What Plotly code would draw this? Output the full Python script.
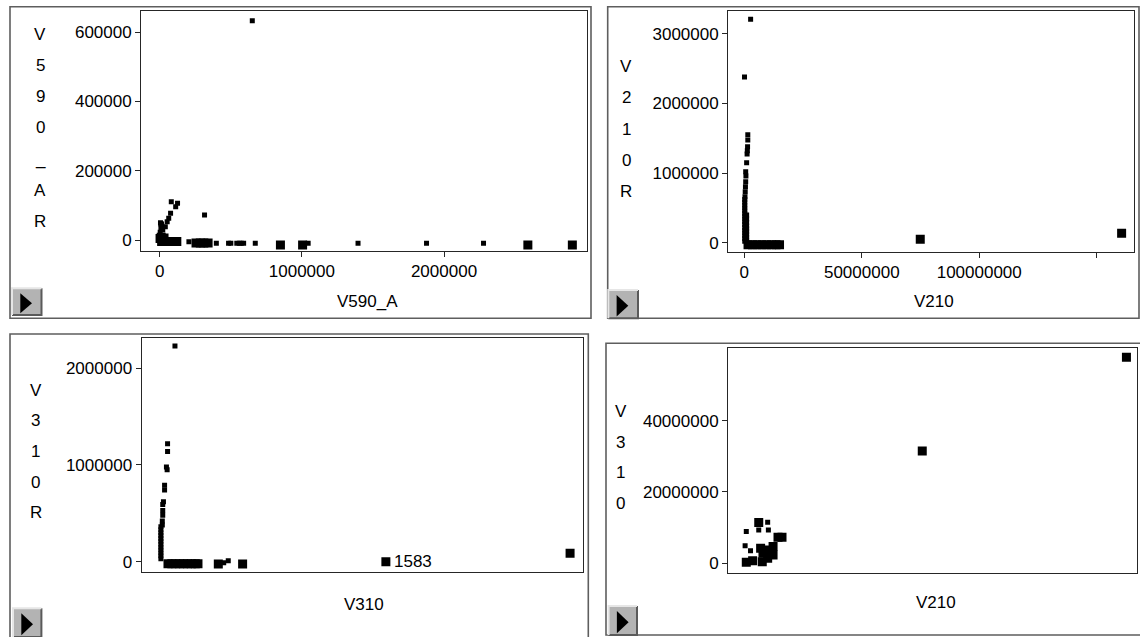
import plotly.graph_objects as go

W, H = 1140, 637
FONT = "Liberation Sans, Arial, sans-serif"

# ---------------- data ----------------
# Panel 1: V590_AR against V590_A
p1_small_x = [651000, 81000, 125000, 112000, 76000, 63000, 52000, 39000, 21000,
              8000, 8000, 15000, 5000, 12000, 3000, 3000, 315000, 205000, 398000,
              484000, 500000, 542000, 560000, 573000, 590000, 672000, 1044000,
              1395000, 1877000, 2278000]
p1_small_y = [633000, 110500, 105900, 96100, 77000, 62600, 52800, 38500, 28900,
              46200, 35000, 40000, 50000, 46000, 22000, 12000, 72000, -5000, -9500,
              -9500, -9500, -9500, -9500, -9500, -9500, -9500, -9500,
              -9500, -9500, -9500]
p1_large_x = [2000, 13000, 30000, 48000, 66000, 84000, 102000, 120000, 10000, 30000,
              255000, 285000, 310000, 340000, 849000, 1005000, 2590000, 2903000]
p1_large_y = [4000, -4000, -4000, -4000, -4000, -4000, -4000, -4000, 8000, 6000,
              -9000, -9000, -9000, -9000, -14400, -14400, -14400, -14400]

# Panel 2: V210R against V210
p2_small_x = [2700000, 100000, 1500000, 1500000, 1400000, 1300000, 1200000, 1000000,
              600000, 700000, 600000, 500000, 400000, 300000,
              200000, 200000, 200000, 200000, 200000, 200000, 200000, 200000,
              200000, 200000, 200000, 200000, 200000, 200000, 200000, 200000,
              1000000, 1000000, 1000000, 1000000, 1000000, 1000000, 1000000, 1000000,
              1000000, 1000000]
p2_small_y = [3210000, 2380000, 1552000, 1476000, 1380000, 1320000, 1274000, 1149000,
              1020000, 958000, 877000, 805000, 733000, 661000,
              620000, 580000, 540000, 500000, 460000, 420000, 380000, 340000,
              300000, 260000, 220000, 180000, 140000, 100000, 60000, 20000,
              400000, 340000, 290000, 240000, 200000, 160000, 120000, 80000,
              40000, 0]
p2_large_x = [1600000, 3500000, 5500000, 7500000, 9500000, 11500000, 13500000, 15000000,
              74900000, 160600000]
p2_large_y = [-30000, -30000, -30000, -30000, -30000, -30000, -30000, -30000,
              49000, 135000]

# Panel 3: V310R against V310
p3_small_x = [107000, 55000, 55000, 47000, 52000, 34000, 34000, 26000, 21000, 21000,
              21000, 18000, 18000, 8000, 8000, 8000, 8000, 8000, 8000, 8000, 8000,
              8000, 8000, 8000, 8000, 450000, 482000]
p3_small_y = [2230000, 1220000, 1140000, 980000, 950000, 790000, 740000, 620000,
              590000, 530000, 480000, 420000, 380000, 360000, 330000, 300000, 270000,
              240000, 210000, 180000, 150000, 120000, 90000, 60000, 30000, -10000, 10000]
p3_large_x = [58000, 85000, 112000, 140000, 167000, 195000, 222000, 250000, 269000,
              412000, 583000, 1591000, 2887000]
p3_large_y = [-22000, -22000, -22000, -22000, -22000, -22000, -22000, -22000, -22000,
              -24000, -24000, 0, 87000]
p3_case_label = "1583"
p3_case_x = 1591000
p3_case_y = 0

# Panel 4: V310 against V210
p4_small_x = [800000, 6100000, 9900000, 10200000, 300000, 2600000]
p4_small_y = [8900000, 9300000, 11500000, 9300000, 4900000, 3500000]
p4_large_x = [162600000, 75700000, 6100000, 14300000, 16000000, 800000, 3500000,
              7600000, 7900000, 10600000, 12200000, 9900000, 12200000, 6900000]
p4_large_y = [57800000, 31500000, 11400000, 7300000, 7300000, 300000, 700000,
              450000, 2800000, 3700000, 2300000, 1400000, 4700000, 4200000]

# axis titles and ticks
p1_xtitle, p1_ytitle = "V590_A", "V590_AR"
p2_xtitle, p2_ytitle = "V210", "V210R"
p3_xtitle, p3_ytitle = "V310", "V310R"
p4_xtitle, p4_ytitle = "V210", "V310"
p1_xticks = [0, 1000000, 2000000]
p1_yticks = [0, 200000, 400000, 600000]
p2_xticks = [0, 50000000, 100000000, 150000000]
p2_xticklabels = ["0", "50000000", "100000000", ""]
p2_yticks = [0, 1000000, 2000000, 3000000]
p3_yticks = [0, 1000000, 2000000]
p4_yticks = [0, 20000000, 40000000]


# ---------------- helpers ----------------
def fx(x):
    return x / W


def fy(y):
    return 1 - y / H


LINE = "#262626"


def make_axis(dom, rng, anchor, tickvals=None, ticktext=None, vertical=False):
    d = dict(
        domain=[fx(dom[0]), fx(dom[1])] if not vertical else [fy(dom[1]), fy(dom[0])],
        range=rng, anchor=anchor, showgrid=False, zeroline=False,
        showline=True, mirror=True, linecolor=LINE, linewidth=1.4,
        tickfont=dict(family=FONT, size=17, color="black"),
        fixedrange=True,
    )
    if tickvals:
        d.update(tickmode="array", tickvals=tickvals,
                 ticktext=ticktext if ticktext else [str(v) for v in tickvals],
                 ticks="outside", ticklen=5, tickwidth=1, tickcolor=LINE)
    else:
        d.update(showticklabels=False, ticks="")
    return d


fig = go.Figure()


def add_points(xs, ys, size, xa, ya):
    fig.add_trace(go.Scatter(
        x=xs, y=ys, mode="markers", xaxis=xa, yaxis=ya, showlegend=False,
        hoverinfo="x+y",
        marker=dict(symbol="square", size=size, color="black", line=dict(width=0)),
    ))


add_points(p1_small_x, p1_small_y, 5, "x", "y")
add_points(p1_large_x, p1_large_y, 9, "x", "y")
add_points(p2_small_x, p2_small_y, 5, "x2", "y2")
add_points(p2_large_x, p2_large_y, 9, "x2", "y2")
add_points(p3_small_x, p3_small_y, 5, "x3", "y3")
add_points(p3_large_x, p3_large_y, 9, "x3", "y3")
add_points(p4_small_x, p4_small_y, 5, "x4", "y4")
add_points(p4_large_x, p4_large_y, 9, "x4", "y4")

shapes = []
annotations = []

# outer window frames
for (x0, y0, x1, y1) in [(10, 6.7, 591, 318.3), (607.7, 6.7, 1139, 318.3),
                         (10, 334, 588.3, 640), (606, 343.3, 1142, 635)]:
    shapes.append(dict(type="rect", xref="paper", yref="paper",
                       x0=fx(x0), x1=fx(x1), y0=fy(y1), y1=fy(y0),
                       line=dict(color="#5e5e5e", width=1.6), layer="below"))

# small play buttons in the lower-left corner of each window
for (x0, y0, x1, y1) in [(12, 288.3, 41.5, 315), (608.3, 290, 638, 318.3),
                         (13, 608.3, 41.4, 637), (608.6, 606, 637, 635)]:
    shapes.append(dict(type="rect", xref="paper", yref="paper",
                       x0=fx(x0), x1=fx(x1), y0=fy(y1), y1=fy(y0),
                       fillcolor="#b3b3b3", line=dict(width=0)))
    shapes.append(dict(type="path", xref="paper", yref="paper",
                       path=f"M {fx(x0)},{fy(y1)} L {fx(x1)},{fy(y1)} L {fx(x1)},{fy(y0)}",
                       line=dict(color="#5a5a5a", width=2)))
    shapes.append(dict(type="path", xref="paper", yref="paper",
                       path=f"M {fx(x0)},{fy(y1)} L {fx(x0)},{fy(y0)} L {fx(x1)},{fy(y0)}",
                       line=dict(color="#e6e6e6", width=2)))
    tx0, tx1 = x0 + 8.3, x0 + 20
    ty0, ty1 = y0 + 5, y1 - 1.7
    shapes.append(dict(type="path", xref="paper", yref="paper",
                       path=f"M {fx(tx0)},{fy(ty0)} L {fx(tx1)},{fy((ty0 + ty1) / 2)} "
                            f"L {fx(tx0)},{fy(ty1)} Z",
                       fillcolor="black", line=dict(width=0)))


def stacked_title(text, x, y0, step):
    for i, ch in enumerate(text):
        annotations.append(dict(text=ch, x=fx(x), y=fy(y0 + i * step),
                                xref="paper", yref="paper", showarrow=False,
                                xanchor="center", yanchor="middle",
                                font=dict(family=FONT, size=17, color="black")))


def x_title(text, x, y):
    annotations.append(dict(text=text, x=fx(x), y=fy(y), xref="paper", yref="paper",
                            showarrow=False, xanchor="center", yanchor="middle",
                            font=dict(family=FONT, size=17, color="black")))


stacked_title(p1_ytitle, 40, 34.3, 31.2)
stacked_title(p2_ytitle, 626.4, 66.7, 31.25)
stacked_title(p3_ytitle, 35.9, 390, 30.7)
stacked_title(p4_ytitle, 620.5, 411.7, 30.6)

x_title(p1_xtitle, 367, 301.7)
x_title(p2_xtitle, 934, 301.7)
x_title(p3_xtitle, 364.4, 604)
x_title(p4_xtitle, 936, 602.7)

annotations.append(dict(text=p3_case_label, x=p3_case_x, y=p3_case_y, xref="x3", yref="y3",
                        showarrow=False, xanchor="left", yanchor="middle", xshift=6,
                        font=dict(family=FONT, size=17, color="black")))

fig.update_layout(
    width=W, height=H, margin=dict(l=0, r=0, t=0, b=0),
    paper_bgcolor="white", plot_bgcolor="white",
    font=dict(family=FONT, size=17, color="black"),
    xaxis=make_axis((141.3, 586.7), [-130000, 3004000], "y", p1_xticks),
    yaxis=make_axis((11, 250.7), [-30900, 661000], "x", p1_yticks, vertical=True),
    xaxis2=make_axis((728.3, 1133.6), [-6800000, 165700000], "y2", p2_xticks, p2_xticklabels),
    yaxis2=make_axis((11, 251.7), [-129000, 3329000], "x2", p2_yticks, vertical=True),
    xaxis3=make_axis((141.7, 583.3), [-127000, 2980000], "y3"),
    yaxis3=make_axis((338.3, 572.3), [-110000, 2310000], "x3", p3_yticks, vertical=True),
    xaxis4=make_axis((728.2, 1137), [-6900000, 167100000], "y4"),
    yaxis4=make_axis((347.7, 572.5), [-2600000, 60500000], "x4", p4_yticks, vertical=True),
    shapes=shapes, annotations=annotations,
)

fig.write_html("out.html")
